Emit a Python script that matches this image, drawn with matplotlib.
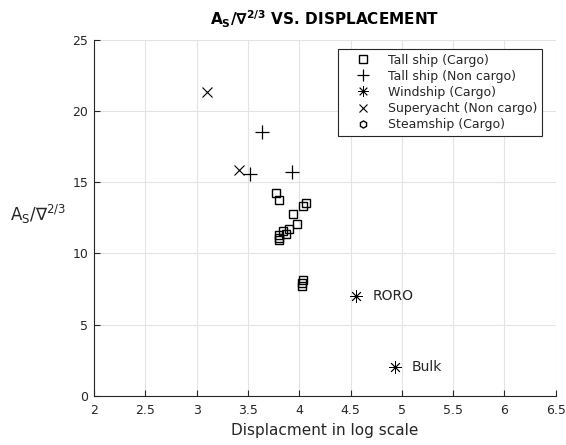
import matplotlib
matplotlib.use("Agg")
import matplotlib.pyplot as plt

# Tall ships carrying cargo
tall_cargo_x = [3.775, 3.80, 4.066, 4.034, 3.94, 3.98, 3.90, 3.845, 3.87, 3.80, 3.80, 3.80, 4.034, 4.024, 4.024]
tall_cargo_y = [14.27, 13.75, 13.52, 13.33, 12.8, 12.07, 11.7, 11.6, 11.35, 11.3, 11.07, 10.95, 8.14, 7.9, 7.72]

# Tall ships, non cargo
tall_nc_x = [3.64, 3.52, 3.93]
tall_nc_y = [18.55, 15.6, 15.7]

# Windships (cargo)
wind_x = [4.55, 4.93]
wind_y = [7.02, 2.01]
wind_names = ["RORO", "Bulk"]

# Superyachts
yacht_x = [3.10, 3.41]
yacht_y = [21.33, 15.86]

# Steamships (no points available)
steam_x = []
steam_y = []

xticks = [2, 2.5, 3, 3.5, 4, 4.5, 5, 5.5, 6, 6.5]
yticks = [0, 5, 10, 15, 20, 25]

ink = "#262626"
plt.rcParams["font.family"] = "DejaVu Sans"

fig = plt.figure(figsize=(5.66, 4.45), dpi=100)
ax = fig.add_axes([0.166, 0.110, 0.816, 0.801])

ax.plot(tall_cargo_x, tall_cargo_y, "s", mfc="none", mec="black", ms=6, mew=1.0,
        label="Tall ship (Cargo)")
ax.plot(tall_nc_x, tall_nc_y, "+", color="black", ms=9.5, mew=0.9,
        label="Tall ship (Non cargo)")
ax.plot(wind_x, wind_y, marker=(8, 2, 0), ls="none", color="black", ms=9, mew=0.6,
        label="Windship (Cargo)")
ax.plot(yacht_x, yacht_y, "x", color="black", ms=7, mew=0.8,
        label="Superyacht (Non cargo)")
ax.plot(steam_x, steam_y, "h", mfc="none", mec="black", ms=6, mew=1.0,
        label="Steamship (Cargo)")

for x, y, name in zip(wind_x, wind_y, wind_names):
    ax.text(x + 0.17, y, name, fontsize=10, color=ink, va="center", ha="left")

ax.set_xlim(2, 6.5)
ax.set_ylim(0, 25)
ax.set_xticks(xticks)
ax.set_xticklabels([f"{t:g}" for t in xticks])
ax.set_yticks(yticks)
ax.tick_params(direction="in", length=4, width=0.8, colors=ink, labelsize=9, pad=4)
ax.tick_params(axis="x", pad=6)
ax.grid(True, color="#e3e3e3", lw=0.8)
ax.set_axisbelow(True)
for side in ["top", "right"]:
    ax.spines[side].set_visible(False)
for side in ["left", "bottom"]:
    ax.spines[side].set_color(ink)
    ax.spines[side].set_linewidth(0.8)

ax.set_title(r"$\mathbf{A_S/\nabla^{2/3}}$ VS. DISPLACEMENT", fontsize=11,
             fontweight="bold", color="black", pad=10)
ax.set_xlabel("Displacment in log scale", fontsize=11, color=ink, labelpad=4)
ax.set_ylabel(r"$\mathregular{A_S/\nabla^{2/3}}$", fontsize=12, color=ink,
              rotation=0, ha="right", va="center", labelpad=3)
ax.yaxis.set_label_coords(-0.06, 0.51)

leg = ax.legend(loc="upper right", bbox_to_anchor=(0.97, 0.975), fontsize=9,
                frameon=True, fancybox=False, edgecolor=ink, framealpha=1,
                handlelength=3.2, handletextpad=0.35, labelspacing=0.25,
                borderpad=0.4, borderaxespad=0, markerscale=0.85)
leg.get_frame().set_linewidth(0.8)
for t in leg.get_texts():
    t.set_color(ink)

fig.savefig("out.png", dpi=100)
